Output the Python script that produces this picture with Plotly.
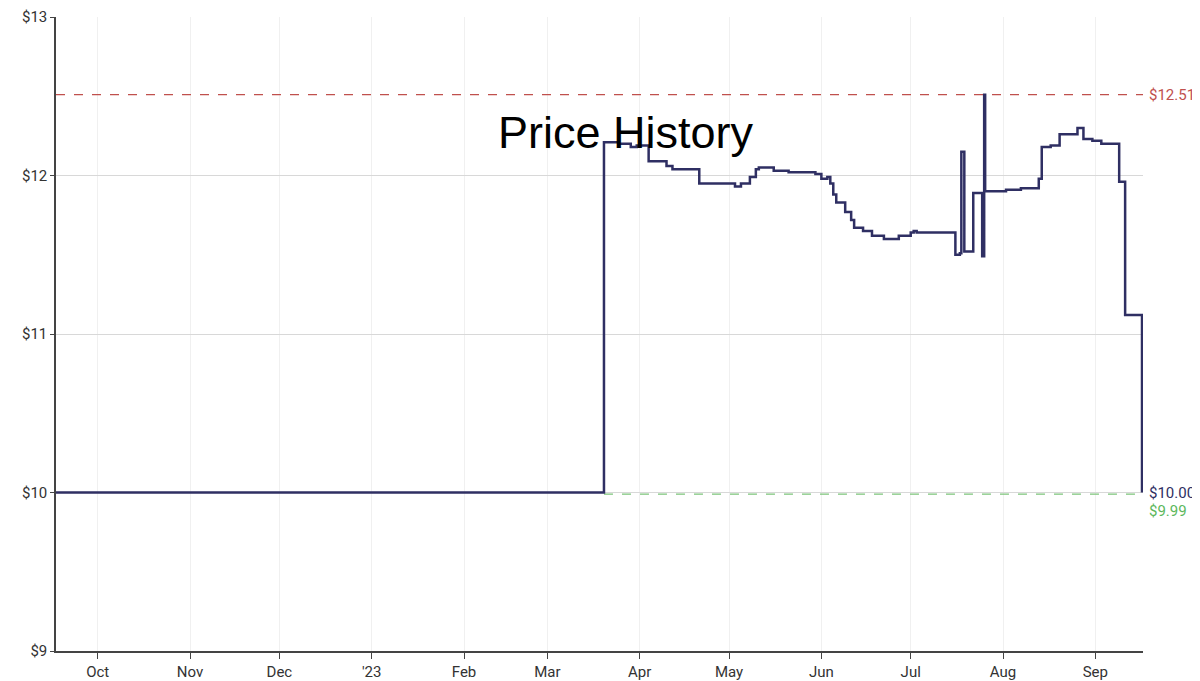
import plotly.graph_objects as go

# price history (step data, each price holds until the next date)
dates = [
    "2022-09-17", "2023-03-20", "2023-03-25", "2023-03-29", "2023-03-31", "2023-04-04",
    "2023-04-10", "2023-04-12", "2023-04-21", "2023-05-03", "2023-05-05", "2023-05-08",
    "2023-05-10", "2023-05-11", "2023-05-16", "2023-05-21", "2023-05-30", "2023-06-01",
    "2023-06-03", "2023-06-04", "2023-06-05", "2023-06-06", "2023-06-09", "2023-06-11",
    "2023-06-12", "2023-06-15", "2023-06-18", "2023-06-22", "2023-06-27", "2023-07-01",
    "2023-07-02", "2023-07-03", "2023-07-16", "2023-07-17 12:00", "2023-07-18",
    "2023-07-19", "2023-07-22", "2023-07-24 12:00", "2023-07-25", "2023-07-25 16:00",
    "2023-07-26", "2023-08-02", "2023-08-07", "2023-08-13", "2023-08-14", "2023-08-17",
    "2023-08-20", "2023-08-26", "2023-08-28", "2023-08-31", "2023-09-03", "2023-09-09",
    "2023-09-11", "2023-09-16 16:00",
]
prices = [
    10.00, 12.21, 12.20, 12.18, 12.19, 12.09,
    12.06, 12.04, 11.95, 11.93, 11.95, 11.99,
    12.04, 12.05, 12.03, 12.02, 12.01, 11.98,
    11.99, 11.95, 11.88, 11.83, 11.77, 11.72,
    11.67, 11.65, 11.62, 11.60, 11.62, 11.64,
    11.65, 11.64, 11.50, 11.51, 12.15,
    11.52, 11.89, 11.89, 11.49, 12.51,
    11.90, 11.91, 11.92, 11.98, 12.18, 12.19,
    12.26, 12.30, 12.23, 12.22, 12.20, 11.96,
    11.12, 10.00,
]

high_price = 12.51
low_price = 9.99
low_start = "2023-03-20"
x_start = "2022-09-17"
x_end = "2023-09-17"

tick_vals = ["2022-10-01", "2022-11-01", "2022-12-01", "2023-01-01", "2023-02-01",
             "2023-03-01", "2023-04-01", "2023-05-01", "2023-06-01", "2023-07-01",
             "2023-08-01", "2023-09-01"]
tick_text = ["Oct", "Nov", "Dec", "'23", "Feb", "Mar", "Apr", "May", "Jun", "Jul", "Aug", "Sep"]

navy = "#2f2f63"

fig = go.Figure()
fig.add_trace(go.Scatter(x=[x_start, x_end], y=[high_price, high_price], mode="lines",
                         line=dict(color="#c0504d", width=1.2, dash="dash"), hoverinfo="skip"))
fig.add_trace(go.Scatter(x=[low_start, x_end], y=[low_price, low_price], mode="lines",
                         line=dict(color="#7cc47a", width=1.2, dash="dash"), hoverinfo="skip"))
fig.add_trace(go.Scatter(x=dates, y=prices, mode="lines", line_shape="hv",
                         line=dict(color=navy, width=2.5)))

for val, txt, col, dy in [(high_price, "$12.51", "#c0504d", 0),
                          (prices[-1], "$10.00", navy, 0),
                          (low_price, "$9.99", "#5cb85c", -17)]:
    fig.add_annotation(x=1.0, xref="paper", y=val, yref="y", text=txt, showarrow=False,
                       xanchor="left", xshift=4, yshift=dy,
                       font=dict(family="Roboto", size=15, color=col))

# title sits inside the plot
fig.add_annotation(x=0.524, xref="paper", y=0.861, yref="paper", text="Price History",
                   showarrow=False, font=dict(family="Liberation Sans", size=45, color="black"))

fig.update_layout(
    width=1200, height=681, showlegend=False,
    margin=dict(l=48, r=65, t=9, b=38, autoexpand=False),
    plot_bgcolor="white", paper_bgcolor="white",
    font=dict(family="Roboto", size=15, color="#333"),
)
fig.update_xaxes(range=[x_start, x_end], tickvals=tick_vals, ticktext=tick_text,
                 automargin=False,
                 showgrid=True, gridcolor="#f0f0f0", showline=True, linecolor="#444",
                 linewidth=1.5, ticks="outside", ticklen=6, tickcolor="#444")
fig.update_yaxes(range=[9, 13], dtick=1, tickprefix="$", showgrid=True, gridcolor="#d8d8d8",
                 automargin=False,
                 showline=True, linecolor="#444", linewidth=1.5, ticks="outside",
                 ticklen=4, tickcolor="#444", zeroline=False)

fig.write_html("out.html")
